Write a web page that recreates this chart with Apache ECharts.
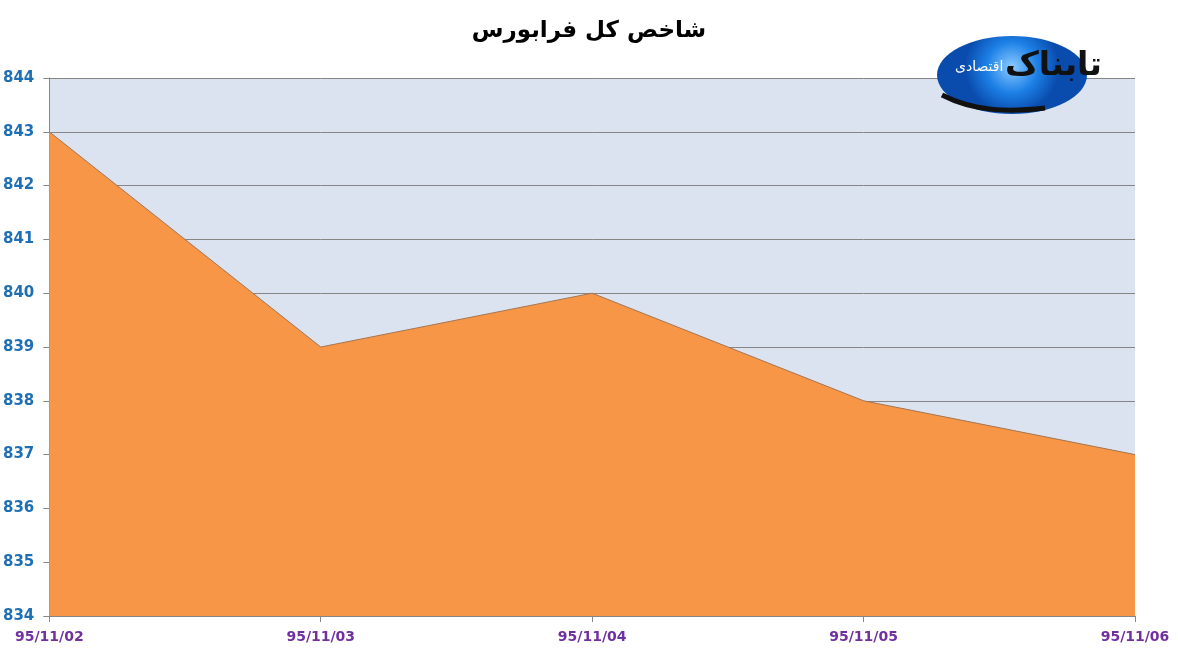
<!DOCTYPE html>
<html>
<head>
<meta charset="utf-8">
<script src="https://cdn.jsdelivr.net/npm/echarts@6/dist/echarts.min.js"></script>
<style>
html,body{margin:0;padding:0;background:#fff;}
#chart{width:1178px;height:658px;}
</style>
</head>
<body>
<div id="chart"></div>
<script>
var dates=['95/11/02','95/11/03','95/11/04','95/11/05','95/11/06'];
var indexValues=[843,839,840,838,837];
var chartTitle='شاخص کل فرابورس';

var chartObj=echarts.init(document.getElementById('chart'));
var option={
	animation:false,
	title:{
		text:chartTitle,
		left:'center',
		top:15,
		textStyle:{
			fontFamily:'DejaVu Sans',
			fontSize:23,
			fontWeight:'bold',
			color:'#000'
		}
	},
	grid:{left:48,right:43,top:78,bottom:42,show:true,backgroundColor:'#DCE3F0',borderWidth:0},
	xAxis:{
		type:'category',
		boundaryGap:false,
		data:dates,
		axisLine:{lineStyle:{color:'#868686'}},
		axisTick:{show:true,length:6,lineStyle:{color:'#868686'}},
		axisLabel:{
			color:'#7030A0',
			fontFamily:'DejaVu Sans',
			fontWeight:'bold',
			fontSize:14,
			margin:14
		}
	},
	yAxis:{
		type:'value',
		min:834,
		max:844,
		interval:1,
		axisLine:{show:true,lineStyle:{color:'#868686'}},
		axisTick:{show:true,length:6,lineStyle:{color:'#868686'}},
		splitLine:{lineStyle:{color:'#868686'}},
		axisLabel:{
			color:'#1F6FB5',
			fontFamily:'DejaVu Sans',
			fontWeight:'bold',
			fontSize:15,
			margin:15
		}
	},
	series:[
		{
			name:chartTitle,
			type:'line',
			data:indexValues,
			symbol:'none',
			lineStyle:{color:'#A8744E',width:1},
			areaStyle:{color:'#F79646',opacity:1,origin:'start'}
		}
	],
	graphic:[
		// logo - blue ellipse with site name
		{
			type:'ellipse',
			shape:{cx:1012,cy:75,rx:75,ry:39},
			style:{
				fill:new echarts.graphic.RadialGradient(0.5,0.4,0.6,[
					{offset:0,color:'#8CCBFF'},
					{offset:0.55,color:'#1C80E6'},
					{offset:1,color:'#0A4CAE'}
				])
			},
			z:100
		},
		{
			type:'bezierCurve',
			shape:{x1:942,y1:95,x2:1045,y2:108,cpx1:975,cpy1:112,cpx2:1010,cpy2:112},
			style:{stroke:'#111',lineWidth:5,fill:null},
			z:101
		},
		{
			type:'text',
			left:1005,
			top:50,
			style:{text:'تابناک',fontFamily:'DejaVu Sans',fontSize:33,fontWeight:'bold',fill:'#111'},
			z:102
		},
		{
			type:'text',
			left:955,
			top:60,
			style:{text:'اقتصادی',fontFamily:'DejaVu Sans',fontSize:14,fill:'#fff'},
			z:102
		}
	]
};
chartObj.setOption(option);
</script>
</body>
</html>
